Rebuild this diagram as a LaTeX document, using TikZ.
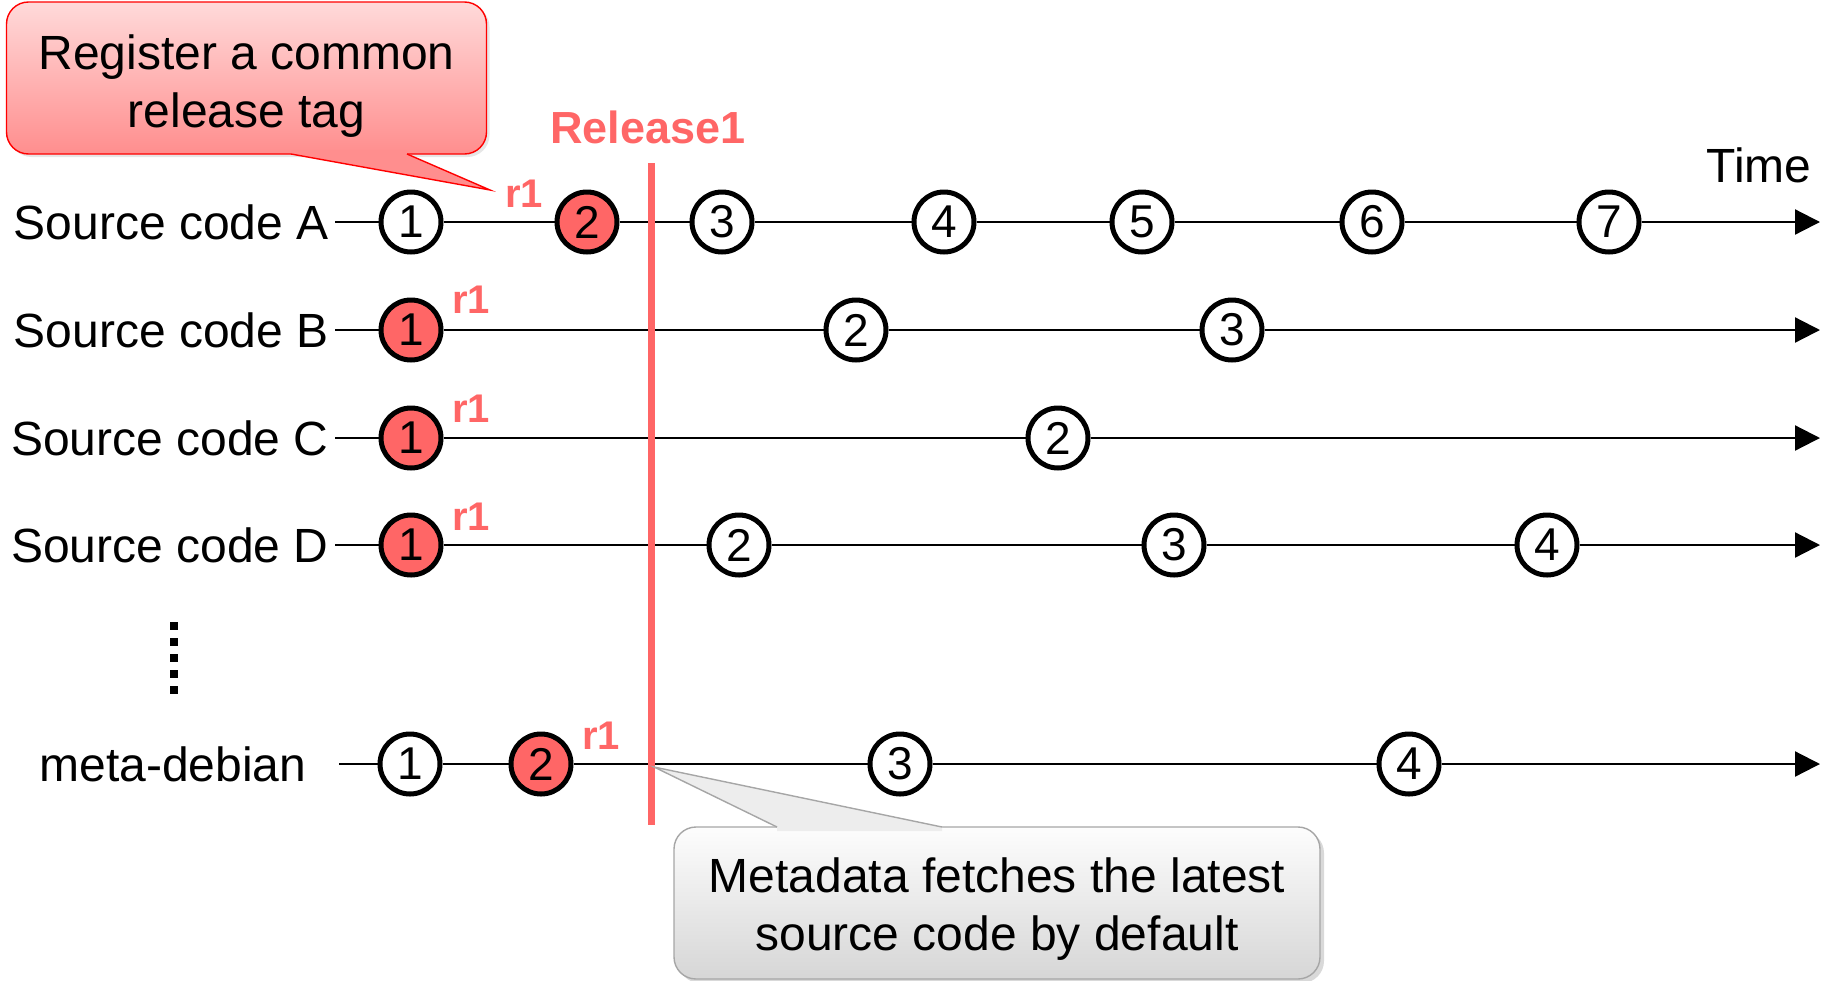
\documentclass[tikz,border=0pt]{standalone}
\usepackage{fontspec}
\setmainfont{Liberation Sans}
\usetikzlibrary{arrows.meta,positioning,shadows}

\definecolor{relred}{HTML}{FF6666}
\definecolor{pinktop}{HTML}{FFDADA}
\definecolor{pinkbot}{HTML}{FF8E8E}
\definecolor{graytop}{HTML}{FDFDFD}
\definecolor{graybot}{HTML}{D6D6D6}
\definecolor{grayedge}{HTML}{A6A6A6}

\begin{document}
\begin{tikzpicture}[
    x=0.5pt, y=-0.5pt,
    every node/.style={font=\fontsize{24}{29}\selectfont},
    commit/.style={circle, draw, line width=2.5pt, minimum size=30pt, inner sep=0pt, fill=white, font=\fontsize{23}{23}\selectfont},
    tagged/.style={commit, fill=relred},
    srclabel/.style={anchor=east, inner sep=3pt},
    timeline/.style={line width=1.1pt},
    timearrow/.style={timeline, -{Triangle[length=12.5pt, width=12.5pt]}},
    rtag/.style={text=relred, font=\bfseries\fontsize{20}{20}\selectfont, inner sep=0pt},
    relline/.style={relred, line width=3.5pt},
    redcall/.style={draw=red, line width=0.7pt, rounded corners=11pt, top color=pinktop, bottom color=pinkbot, minimum width=240pt, minimum height=76pt, drop shadow={opacity=0.2, shadow xshift=1.5pt, shadow yshift=-1.5pt}},
    graycall/.style={draw=grayedge, line width=0.7pt, rounded corners=11pt, top color=graytop, bottom color=graybot, minimum width=323pt, minimum height=76pt, drop shadow={opacity=0.3, shadow xshift=2pt, shadow yshift=-2pt}}
]
\useasboundingbox (0,0) rectangle (1831,980);

% Source code A
\node[srclabel] (srcA) at (335,222) {Source code A};
\foreach \n/\x in {1/411,3/722,4/944,5/1142,6/1372,7/1609}
    \node[commit] (a\n) at (\x,222) {\n};
\node[tagged] (a2) at (587,222) {2};
\coordinate (aend) at (1820,222);
\draw[timeline] (srcA) -- (a1) -- (a2) -- (a3) -- (a4) -- (a5) -- (a6) -- (a7);
\draw[timearrow] (a7) -- (aend);
\node[rtag] (ra) at (524,194) {r1};
\node (time) at (1759,165) {Time};

% Source code B
\node[srclabel] (srcB) at (335,330) {Source code B};
\node[tagged] (b1) at (411,330) {1};
\foreach \n/\x in {2/856,3/1232}
    \node[commit] (b\n) at (\x,330) {\n};
\coordinate (bend) at (1820,330);
\draw[timeline] (srcB) -- (b1) -- (b2) -- (b3);
\draw[timearrow] (b3) -- (bend);
\node[rtag] (rb) at (471,300) {r1};

% Source code C
\node[srclabel] (srcC) at (335,438) {Source code C};
\node[tagged] (c1) at (411,438) {1};
\node[commit] (c2) at (1058,438) {2};
\coordinate (cend) at (1820,438);
\draw[timeline] (srcC) -- (c1) -- (c2);
\draw[timearrow] (c2) -- (cend);
\node[rtag] (rc) at (471,409) {r1};

% Source code D
\node[srclabel] (srcD) at (335,545) {Source code D};
\node[tagged] (d1) at (411,545) {1};
\foreach \n/\x in {2/739,3/1174,4/1547}
    \node[commit] (d\n) at (\x,545) {\n};
\coordinate (dend) at (1820,545);
\draw[timeline] (srcD) -- (d1) -- (d2) -- (d3) -- (d4);
\draw[timearrow] (d4) -- (dend);
\node[rtag] (rd) at (471,517) {r1};

% dots
\coordinate (dotstop) at (174,622);
\coordinate (dotsbot) at (174,696);
\draw[line width=4pt, dash pattern=on 4pt off 4pt] (dotstop) -- (dotsbot);

% meta-debian
\node (meta) at (173,764) {meta-debian};
\coordinate (mstart) at (339,764);
\node[commit] (m1) at (410,764) {1};
\node[tagged] (m2) at (541,764) {2};
\node[commit] (m3) at (900,764) {3};
\node[commit] (m4) at (1409,764) {4};
\coordinate (mend) at (1820,764);
\draw[timeline] (mstart) -- (m1) -- (m2) -- (m3) -- (m4);
\draw[timearrow] (m4) -- (mend);
\node[rtag] (rm) at (601,736) {r1};

% Release line
\node[text=relred, font=\bfseries\fontsize{22.5}{22.5}\selectfont] (rel) at (648,127) {Release1};
\coordinate (reltop) at (651,163);
\coordinate (relbot) at (651,825);
\draw[relline] (reltop) -- (relbot);

% Callouts
\node[redcall] (regcall) at (246.5,78) {};
\node[align=center] (regtext) at (246.5,86) {Register a common\\release tag};
\coordinate (regtip) at (490,190);
\fill[pinkbot] (291,150) -- (291,154) -- (regtip) -- (407,154) -- (407,150) -- cycle;
\draw[red, line width=0.7pt] (291,154) -- (regtip) -- (407,154);

\node[graycall] (defcall) at (997,903) {};
\node[align=center] (deftext) at (997,909) {Metadata fetches the latest\\source code by default};
\coordinate (deftip) at (654,767);
\fill[graytop!60!graybot] (777,831) -- (777,827) -- (deftip) -- (942,827) -- (942,831) -- cycle;
\draw[grayedge, line width=0.7pt] (777,827) -- (deftip) -- (942,827);

\end{tikzpicture}
\end{document}
